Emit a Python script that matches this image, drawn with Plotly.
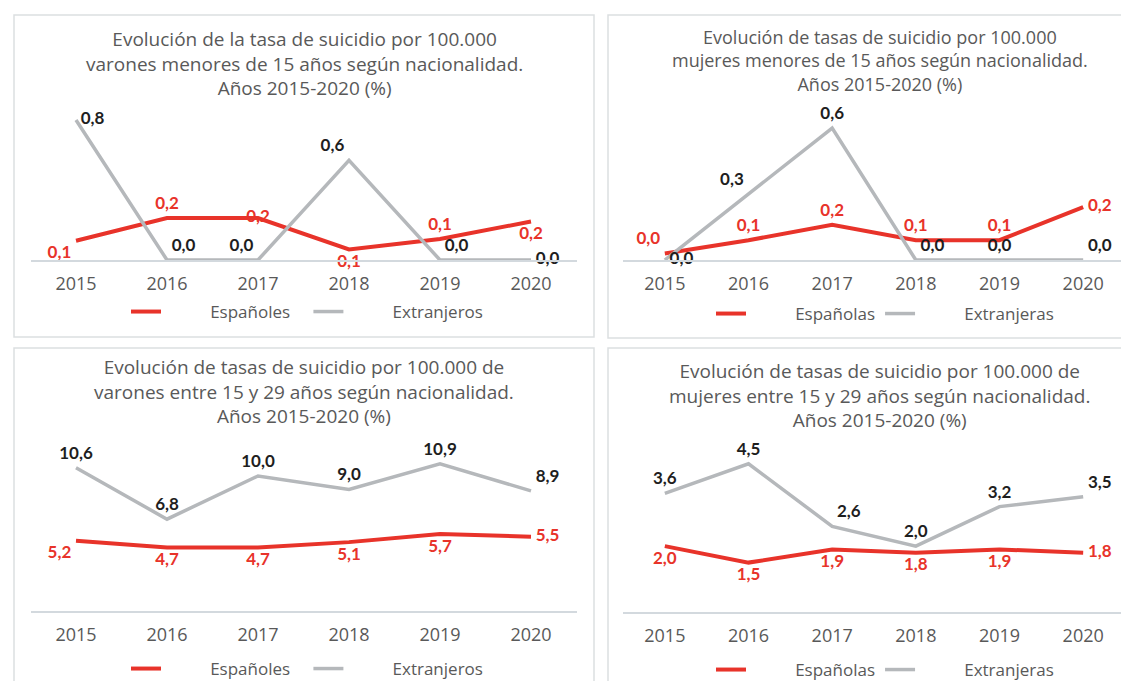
import plotly.graph_objects as go

W, H = 1129, 681

years = ["2015", "2016", "2017", "2018", "2019", "2020"]

# varones / mujeres menores de 15 años
varones_menores_esp = [0.11, 0.24, 0.24, 0.06, 0.12, 0.22]
varones_menores_ext = [0.8, 0.0, 0.0, 0.57, 0.0, 0.0]
mujeres_menores_esp = [0.03, 0.09, 0.16, 0.09, 0.09, 0.24]
mujeres_menores_ext = [0.0, 0.3, 0.6, 0.0, 0.0, 0.0]

# varones / mujeres entre 15 y 29 años
varones_jovenes_esp = [5.2, 4.7, 4.7, 5.1, 5.7, 5.5]
varones_jovenes_ext = [10.6, 6.8, 10.0, 9.0, 10.9, 8.9]
mujeres_jovenes_esp = [2.0, 1.5, 1.9, 1.8, 1.9, 1.8]
mujeres_jovenes_ext = [3.6, 4.5, 2.6, 2.0, 3.2, 3.5]

RED = "#e8332a"
GREY = "#b5b8bb"
TXT = "#595959"
TITLE_FONT = "Open Sans"
LABEL_FONT = "Lato"
NBSP = "\u00a0"


def px_x(v):
    return v / W


def px_y(v):
    return 1 - v / H


panels = [
    dict(
        title="Evolución de la tasa de suicidio por 100.000<br>varones menores de 15 años según nacionalidad.<br>Años 2015-2020 (%)",
        esp=varones_menores_esp, ext=varones_menores_ext,
        names=("Españoles", "Extranjeros"),
        xdom=(22.5, 568.5), ydom=(252, 95), ymax=0.897,
        box=(6, 7, 586, 329), title_xy=(296, 16), title_size=19, legend_xy=(118, 304), trail=3,
        esp_pos=["bottom left", "top center", "middle center", "bottom center", "top center", "bottom center"],
        ext_pos=["middle right", "top right", "top left", "top left", "top right", "middle right"],
    ),
    dict(
        title="Evolución de tasas de suicidio por 100.000<br>mujeres menores de 15 años según nacionalidad.<br>Años 2015-2020 (%)",
        esp=mujeres_menores_esp, ext=mujeres_menores_ext,
        names=("Españolas", "Extranjeras"),
        xdom=(615, 1117), ydom=(252, 95), ymax=0.714,
        box=(600, 7, 1140, 330), title_xy=(872, 15), title_size=18, legend_xy=(703, 306), trail=0,
        esp_pos=["top left", "top center", "top center", "top center", "top center", "middle right"],
        ext_pos=["middle right", "top left", "top center", "top right", "top center", "top right"],
    ),
    dict(
        title="Evolución de tasas de suicidio por 100.000 de<br>varones entre 15 y 29 años según nacionalidad.<br>Años 2015-2020 (%)",
        esp=varones_jovenes_esp, ext=varones_jovenes_ext,
        names=("Españoles", "Extranjeros"),
        xdom=(22.5, 568.5), ydom=(603, 440), ymax=12.07,
        box=(6, 340, 586, 700), title_xy=(296, 344), title_size=19, legend_xy=(118, 661), trail=3,
        esp_pos=["bottom left", "bottom center", "bottom center", "bottom center", "bottom center", "middle right"],
        ext_pos=["top center", "top center", "top center", "top center", "top center", "top right"],
    ),
    dict(
        title="Evolución de tasas de suicidio por 100.000 de<br>mujeres entre 15 y 29 años según nacionalidad.<br>Años 2015-2020 (%)",
        esp=mujeres_jovenes_esp, ext=mujeres_jovenes_ext,
        names=("Españolas", "Extranjeras"),
        xdom=(615, 1117), ydom=(604, 440), ymax=4.98,
        box=(600, 340, 1140, 700), title_xy=(872, 348), title_size=19, legend_xy=(703, 662), trail=0,
        esp_pos=["bottom center", "bottom center", "bottom center", "bottom center", "bottom center", "middle right"],
        ext_pos=["top center", "top center", "top right", "top center", "top center", "top right"],
    ),
]

fig = go.Figure()
layout = {}
shapes = []
annotations = []

for i, p in enumerate(panels):
    n = "" if i == 0 else str(i + 1)
    xa, ya, leg = "x" + n, "y" + n, "legend" + n
    pad = NBSP * 10

    # lines (these carry the legend)
    fig.add_trace(go.Scatter(
        x=years, y=p["esp"], name=pad + p["names"][0] + NBSP * p["trail"], mode="lines",
        line=dict(color=RED, width=4), xaxis=xa, yaxis=ya, legend=leg,
    ))
    fig.add_trace(go.Scatter(
        x=years, y=p["ext"], name=pad + p["names"][1], mode="lines",
        line=dict(color=GREY, width=3.5), xaxis=xa, yaxis=ya, legend=leg,
    ))
    # data labels
    for vals, pos, col in [(p["esp"], p["esp_pos"], RED), (p["ext"], p["ext_pos"], "#1e1e1e")]:
        fig.add_trace(go.Scatter(
            x=years, y=vals, mode="markers+text", showlegend=False,
            marker=dict(size=6, opacity=0), cliponaxis=False,
            texttemplate="<b>%{y:.1f}</b>", textposition=pos,
            textfont=dict(color=col, size=17, family=LABEL_FONT),
            xaxis=xa, yaxis=ya, hoverinfo="skip",
        ))

    layout["xaxis" + n] = dict(
        type="category", domain=[px_x(p["xdom"][0]), px_x(p["xdom"][1])],
        anchor=ya, range=[-0.5, 5.5], showgrid=False, zeroline=False,
        showline=True, linecolor="#d3d9de", linewidth=1.5, ticks="",
        ticklabelstandoff=7,
        tickfont=dict(family=TITLE_FONT, size=18, color=TXT), fixedrange=True,
    )
    layout["yaxis" + n] = dict(
        domain=[px_y(p["ydom"][0]), px_y(p["ydom"][1])], anchor=xa,
        range=[0, p["ymax"]], visible=False, fixedrange=True,
    )
    layout[leg] = dict(
        orientation="h", x=px_x(p["legend_xy"][0]), y=px_y(p["legend_xy"][1]),
        xanchor="left", yanchor="middle",
        font=dict(family=TITLE_FONT, size=17, color=TXT), bgcolor="rgba(0,0,0,0)",
    )

    x0, y0, x1, y1 = p["box"]
    shapes.append(dict(
        type="rect", xref="paper", yref="paper",
        x0=px_x(x0), x1=px_x(x1), y0=px_y(y0), y1=px_y(y1),
        line=dict(color="#dcdfe1", width=1.5), layer="below",
    ))
    annotations.append(dict(
        text=p["title"], xref="paper", yref="paper",
        x=px_x(p["title_xy"][0]), y=px_y(p["title_xy"][1]),
        xanchor="center", yanchor="top", showarrow=False, align="center",
        font=dict(family=TITLE_FONT, size=p["title_size"], color=TXT),
    ))

fig.update_layout(
    width=W, height=H, margin=dict(l=0, r=0, t=0, b=0),
    paper_bgcolor="white", plot_bgcolor="white",
    separators=",.", shapes=shapes, annotations=annotations,
    showlegend=True, **layout,
)

fig.write_html("out.html")
